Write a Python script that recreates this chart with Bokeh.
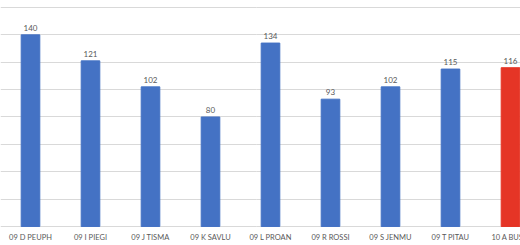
from bokeh.plotting import figure
from bokeh.models import Range1d, FixedTicker, ColumnDataSource
from bokeh.embed import file_html
from bokeh.resources import INLINE
from bokeh.core.properties import value

categories = ["09 D PEUPH", "09 I PIEGI", "09 J TISMA", "09 K SAVLU", "09 L PROAN",
              "09 R ROSSI", "09 S JENMU", "09 T PITAU", "10 A BUSSI"]
values = [140, 121, 102, 80, 134, 93, 102, 115, 116]
colors = ["#4472C4"] * 8 + ["#E53526"]
y_ticks = [0, 20, 40, 60, 80, 100, 120, 140, 160]

xs = [i + 0.5 for i in range(len(categories))]
src = ColumnDataSource(dict(x=xs, top=values, color=colors, label=[str(v) for v in values],
                            cat=categories, ly=[-8.0] * len(categories)))

p = figure(width=520, height=245, output_backend="svg", toolbar_location=None,
           x_range=Range1d(0, 520 / 60), y_range=Range1d(-13.9, 165.1),
           min_border_left=0, min_border_right=0, min_border_top=0, min_border_bottom=0)
p.outline_line_color = None
p.background_fill_color = "white"
p.border_fill_color = "white"

p.vbar(x="x", top="top", width=0.31, color="color", source=src)
p.text(x="x", y="top", text="label", source=src, text_align="center", text_baseline="bottom",
       y_offset=-4, text_font_size="8px", text_color="#595959",
       text_font=value("Lato"))
p.text(x="x", y="ly", text="cat", source=src, text_align="center", text_baseline="middle",
       text_font_size="7.5px", text_color="#595959",
       text_font=value("Lato"))

p.xaxis.visible = False
p.yaxis.visible = False
p.xgrid.visible = False
p.ygrid.ticker = FixedTicker(ticks=y_ticks)
p.ygrid.grid_line_color = "#D9D9D9"
p.ygrid.grid_line_width = 1

open("out.html", "w").write(file_html(p, INLINE))
